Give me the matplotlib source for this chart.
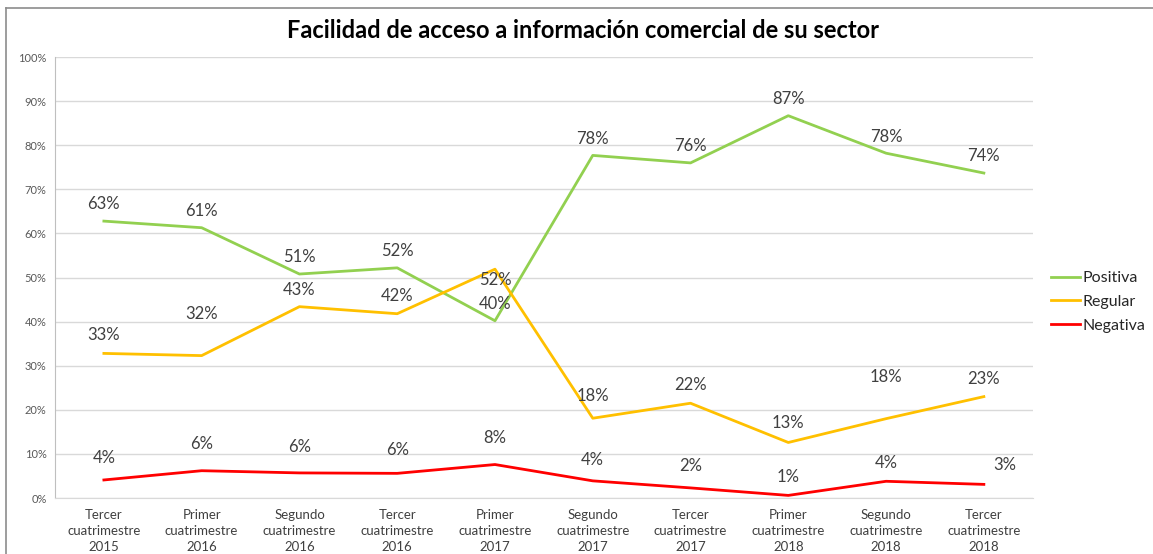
import matplotlib.pyplot as plt
from matplotlib.lines import Line2D

periodos = ["Tercer\ncuatrimestre\n2015", "Primer\ncuatrimestre\n2016", "Segundo\ncuatrimestre\n2016",
            "Tercer\ncuatrimestre\n2016", "Primer\ncuatrimestre\n2017", "Segundo\ncuatrimestre\n2017",
            "Tercer\ncuatrimestre\n2017", "Primer\ncuatrimestre\n2018", "Segundo\ncuatrimestre\n2018",
            "Tercer\ncuatrimestre\n2018"]

positiva = [62.8, 61.3, 50.8, 52.2, 40.2, 77.7, 76.0, 86.7, 78.2, 73.7]
regular = [32.8, 32.3, 43.4, 41.8, 51.9, 18.1, 21.5, 12.6, 18.0, 23.0]
negativa = [4.1, 6.2, 5.7, 5.6, 7.6, 3.9, 2.3, 0.6, 3.8, 3.1]

# desplazamiento de cada etiqueta (pts) respecto al punto
off_pos = [(0, 12)] * 10
off_reg = [(0, 13), (0, 30), (0, 12), (0, 13), (0, -8), (0, 16), (0, 13), (0, 14), (0, 30), (0, 13)]
off_neg = [(0, 16), (0, 19), (0, 19), (0, 17), (0, 19), (0, 15), (0, 16), (0, 13), (0, 13), (15, 14)]

plt.rcParams['font.family'] = ['Lato', 'DejaVu Sans']

fig = plt.figure(figsize=(11.53, 5.54), dpi=100)
ax = fig.add_axes([0.0477, 0.101, 0.848, 0.796])

x = range(len(periodos))
series = [("Positiva", positiva, "#92d050", off_pos),
          ("Regular", regular, "#ffc000", off_reg),
          ("Negativa", negativa, "#ff0000", off_neg)]

for nombre, vals, color, offs in series:
    ax.plot(x, vals, color=color, lw=2, label=nombre)
    for i, v in enumerate(vals):
        ax.annotate(f"{v:.0f}%", (i, v), xytext=offs[i], textcoords="offset points",
                    ha="center", va="center", fontsize=12, color="#404040")

ax.set_xlim(-0.5, len(periodos) - 0.5)
ax.set_ylim(0, 100)
ax.set_yticks(range(0, 101, 10))
ax.set_yticklabels([f"{t}%" for t in range(0, 101, 10)], fontsize=8, color="#595959")
ax.set_xticks(list(x))
ax.set_xticklabels(periodos, fontsize=9.5, color="#404040", linespacing=1.38)
ax.tick_params(length=0, pad=6)
ax.tick_params(axis="x", pad=8)
ax.grid(axis="y", color="#d9d9d9", lw=1)
ax.set_axisbelow(True)
for s in ["top", "right"]:
    ax.spines[s].set_visible(False)
ax.spines["left"].set_color("#bfbfbf")
ax.spines["bottom"].set_color("#d9d9d9")

handles = [Line2D([], [], color=c, lw=2) for _, _, c, _ in series]
fig.legend(handles, [n for n, _, _, _ in series], loc="center left", bbox_to_anchor=(0.899, 0.455),
           frameon=False, fontsize=11.5, handlelength=1.8, handletextpad=0.2, labelspacing=0.6,
           labelcolor="#262626")

fig.text(0.506, 0.945, "Facilidad de acceso a información comercial de su sector",
         ha="center", va="center", fontsize=17, fontweight="bold", color="#000000")

# marco del gráfico
fig.add_artist(Line2D([0.0052, 1], [0.986, 0.986], color="#8c8c8c", lw=1.2, transform=fig.transFigure))
fig.add_artist(Line2D([0.0052, 0.0052], [0, 0.986], color="#8c8c8c", lw=1.2, transform=fig.transFigure))

fig.savefig("out.png", dpi=100, facecolor="white")
